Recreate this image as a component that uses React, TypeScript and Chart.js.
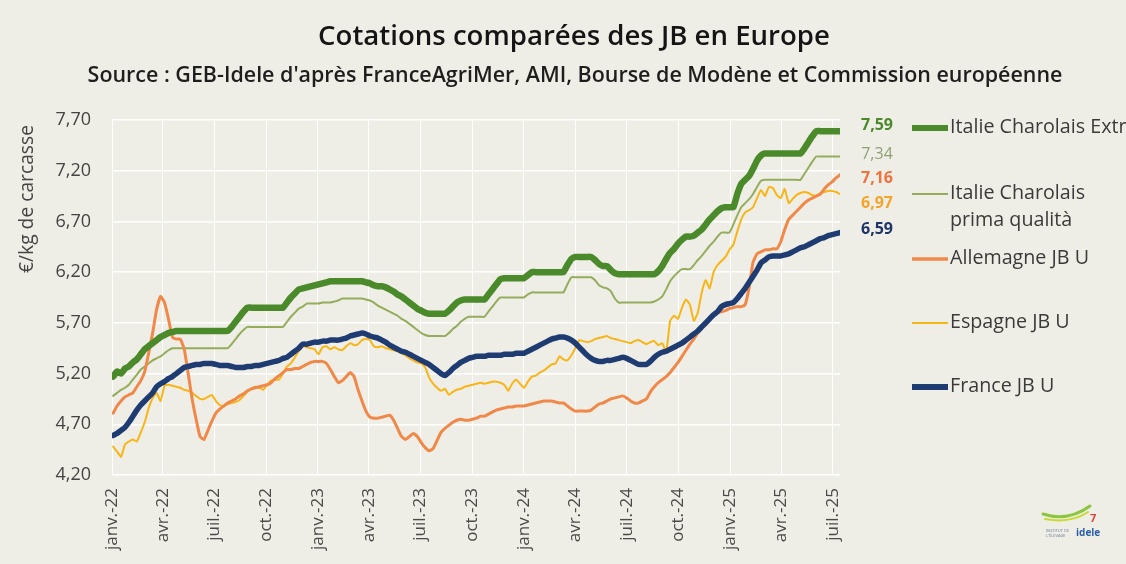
import React, { useEffect, useRef } from "react";
import { Chart, registerables } from "chart.js";

Chart.register(...registerables);

// ---------- DATA (weekly quotations, €/kg carcass, from early Jan 2022 to July 2025) ----------
const italieExtra = [
  5.17, 5.22, 5.20, 5.25, 5.27, 5.31, 5.34, 5.39, 5.44, 5.47, 5.50, 5.53, 5.56, 5.58, 5.60, 5.61,
  5.62, 5.62, 5.62, 5.62, 5.62, 5.62, 5.62, 5.62, 5.62, 5.62, 5.62, 5.62, 5.62, 5.62,
  5.66, 5.71, 5.76, 5.81,
  5.85, 5.85, 5.85, 5.85, 5.85, 5.85, 5.85, 5.85, 5.85, 5.85,
  5.90, 5.95, 5.99, 6.03, 6.04, 6.05, 6.06, 6.07, 6.08, 6.09, 6.10,
  6.11, 6.11, 6.11, 6.11, 6.11, 6.11, 6.11, 6.11, 6.11,
  6.10, 6.09, 6.07, 6.06, 6.06, 6.05, 6.03, 6.01, 5.98, 5.96, 5.93, 5.90, 5.87, 5.84, 5.82, 5.80,
  5.79, 5.79, 5.79, 5.79, 5.79,
  5.82, 5.86, 5.90, 5.92,
  5.93, 5.93, 5.93, 5.93, 5.93, 5.93,
  5.98, 6.03, 6.08, 6.13,
  6.14, 6.14, 6.14, 6.14, 6.14, 6.14,
  6.17,
  6.20, 6.20, 6.20, 6.20, 6.20, 6.20, 6.20, 6.20, 6.20,
  6.27, 6.33,
  6.35, 6.35, 6.35, 6.35, 6.35,
  6.32, 6.28, 6.26, 6.26, 6.22, 6.19,
  6.18, 6.18, 6.18, 6.18, 6.18, 6.18, 6.18, 6.18, 6.18, 6.18,
  6.21, 6.26, 6.33, 6.39, 6.43, 6.48, 6.52, 6.55, 6.55, 6.56, 6.59, 6.62, 6.67, 6.72, 6.76, 6.80, 6.83,
  6.84, 6.84, 6.84,
  6.97, 7.07, 7.11, 7.15, 7.22, 7.30, 7.35,
  7.37, 7.37, 7.37, 7.37, 7.37, 7.37, 7.37, 7.37, 7.37, 7.37,
  7.42, 7.48, 7.54,
  7.59, 7.59, 7.59, 7.59, 7.59, 7.59, 7.59,
];

const italiePrima = [
  4.98, 5.01, 5.04, 5.06, 5.09, 5.14, 5.19, 5.24, 5.27, 5.30, 5.33, 5.35, 5.37, 5.40, 5.43,
  5.45, 5.45, 5.45, 5.45, 5.45, 5.45, 5.45, 5.45, 5.45, 5.45, 5.45, 5.45, 5.45, 5.45, 5.45,
  5.49, 5.54, 5.59, 5.63,
  5.66, 5.66, 5.66, 5.66, 5.66, 5.66, 5.66, 5.66, 5.66, 5.66,
  5.71, 5.76, 5.80, 5.84, 5.86,
  5.89, 5.89, 5.89, 5.89,
  5.90, 5.90, 5.90,
  5.91, 5.92,
  5.94, 5.94, 5.94, 5.94, 5.94, 5.94,
  5.93, 5.92, 5.90, 5.87, 5.85, 5.83, 5.81, 5.79, 5.77, 5.74, 5.72, 5.69, 5.66, 5.63, 5.60, 5.58,
  5.57, 5.57, 5.57, 5.57, 5.57,
  5.60, 5.64, 5.67, 5.71, 5.74,
  5.76, 5.76, 5.76, 5.76, 5.76,
  5.81, 5.86, 5.91,
  5.95, 5.95, 5.95, 5.95, 5.95, 5.95, 5.95,
  5.98,
  6.00, 6.00, 6.00, 6.00, 6.00, 6.00, 6.00, 6.00, 6.00,
  6.08,
  6.15, 6.15, 6.15, 6.15, 6.15, 6.15,
  6.12, 6.07, 6.05, 6.04, 6.01, 5.94,
  5.90, 5.90, 5.90, 5.90, 5.90, 5.90, 5.90, 5.90, 5.90,
  5.91, 5.93, 5.96, 6.03, 6.11, 6.16, 6.20,
  6.23, 6.23, 6.23,
  6.27, 6.32, 6.36, 6.41, 6.46, 6.50, 6.55,
  6.59, 6.59, 6.59,
  6.67, 6.76, 6.84, 6.88, 6.92, 6.97, 7.04, 7.10,
  7.11, 7.11, 7.11, 7.11, 7.11, 7.11, 7.11, 7.11, 7.11, 7.11,
  7.17, 7.23, 7.29,
  7.34, 7.34, 7.34, 7.34, 7.34, 7.34, 7.34,
];

const allemagne = [
  4.81, 4.88, 4.93, 4.97, 4.99, 5.01, 5.07, 5.13, 5.22, 5.40,
  5.60, 5.83, 5.96, 5.90, 5.74, 5.56, 5.54, 5.54, 5.44, 5.20,
  4.95, 4.75, 4.58, 4.55, 4.64, 4.73, 4.81, 4.85, 4.88, 4.91,
  4.93, 4.95, 4.98, 5.00, 5.03, 5.05, 5.06, 5.07, 5.08, 5.09,
  5.11, 5.15, 5.18, 5.21, 5.24, 5.24, 5.25, 5.25, 5.27, 5.29,
  5.31, 5.32, 5.32, 5.32, 5.30, 5.24, 5.17, 5.11, 5.13, 5.17,
  5.21, 5.17, 5.04, 4.93, 4.83, 4.77, 4.76, 4.76, 4.77, 4.78,
  4.79, 4.74, 4.66, 4.58, 4.55, 4.58, 4.61, 4.58, 4.52, 4.47,
  4.44, 4.46, 4.54, 4.62, 4.66, 4.69, 4.72, 4.74, 4.75, 4.74,
  4.74, 4.75, 4.76, 4.78, 4.78, 4.80, 4.82, 4.84, 4.85, 4.86,
  4.87, 4.87, 4.88, 4.88, 4.88, 4.89, 4.90, 4.91, 4.92, 4.93,
  4.93, 4.93, 4.92, 4.91, 4.91, 4.88, 4.85, 4.83, 4.83, 4.83,
  4.83, 4.84, 4.87, 4.90, 4.91, 4.93, 4.95, 4.96, 4.97, 4.98,
  4.96, 4.93, 4.91, 4.91, 4.93, 4.95, 5.02, 5.07, 5.11, 5.14,
  5.17, 5.21, 5.26, 5.31, 5.37, 5.43, 5.49, 5.54, 5.60, 5.65,
  5.68, 5.73, 5.78, 5.80, 5.81, 5.82, 5.84, 5.85, 5.86, 5.86,
  5.88, 6.05, 6.30, 6.38, 6.40, 6.42, 6.42, 6.43, 6.43, 6.50,
  6.62, 6.72, 6.76, 6.80, 6.84, 6.88, 6.91, 6.93, 6.95, 6.97,
  7.02, 7.06, 7.09, 7.13, 7.16,
];

const espagne = [
  4.48, 4.43, 4.38, 4.50, 4.53, 4.55, 4.53, 4.62, 4.72, 4.86,
  4.96, 5.01, 4.93, 5.08, 5.09, 5.08, 5.07, 5.06, 5.04, 5.03,
  5.01, 4.98, 4.95, 4.95, 4.97, 4.99, 4.93, 4.89, 4.88, 4.90,
  4.91, 4.92, 4.94, 4.98, 5.02, 5.05, 5.07, 5.06, 5.04, 5.09,
  5.13, 5.14, 5.14, 5.20, 5.27, 5.30, 5.36, 5.42, 5.47, 5.46,
  5.45, 5.44, 5.39, 5.46, 5.47, 5.44, 5.46, 5.44, 5.43, 5.47,
  5.50, 5.48, 5.49, 5.53, 5.54, 5.53, 5.47, 5.46, 5.47, 5.45,
  5.44, 5.43, 5.42, 5.40, 5.38, 5.35, 5.33, 5.31, 5.30, 5.26,
  5.16, 5.10, 5.06, 5.03, 5.05, 4.99, 5.02, 5.04, 5.05, 5.07,
  5.08, 5.09, 5.10, 5.11, 5.10, 5.11, 5.12, 5.12, 5.11, 5.09,
  5.03, 5.10, 5.14, 5.10, 5.06, 5.12, 5.17, 5.18, 5.21, 5.23,
  5.26, 5.29, 5.30, 5.37, 5.34, 5.33, 5.38, 5.45, 5.53, 5.52,
  5.51, 5.52, 5.54, 5.55, 5.56, 5.57, 5.55, 5.54, 5.53, 5.52,
  5.51, 5.50, 5.52, 5.53, 5.51, 5.49, 5.51, 5.52, 5.48, 5.50,
  5.41, 5.72, 5.77, 5.74, 5.85, 5.93, 5.88, 5.72, 5.80, 6.00,
  6.12, 6.04, 6.20, 6.27, 6.31, 6.35, 6.42, 6.47, 6.60, 6.72,
  6.79, 6.81, 6.84, 6.93, 7.01, 6.95, 7.04, 7.03, 6.96, 6.93,
  7.02, 6.88, 6.92, 6.96, 6.98, 6.99, 6.98, 6.96, 6.95, 6.98,
  6.99, 7.00, 7.00, 6.99, 6.97,
];

const france = [
  4.59, 4.61, 4.64, 4.67, 4.72, 4.78, 4.84, 4.89, 4.93, 4.97,
  5.01, 5.07, 5.10, 5.12, 5.15, 5.17, 5.20, 5.23, 5.26, 5.27,
  5.28, 5.29, 5.29, 5.30, 5.30, 5.30, 5.29, 5.28, 5.28, 5.28,
  5.27, 5.26, 5.26, 5.26, 5.27, 5.27, 5.28, 5.28, 5.29, 5.30,
  5.31, 5.32, 5.33, 5.35, 5.36, 5.39, 5.42, 5.45, 5.49, 5.49,
  5.50, 5.51, 5.51, 5.52, 5.52, 5.53, 5.53, 5.53, 5.54, 5.55,
  5.57, 5.58, 5.59, 5.60, 5.59, 5.57, 5.56, 5.55, 5.53, 5.51,
  5.48, 5.46, 5.44, 5.42, 5.41, 5.39, 5.37, 5.35, 5.33, 5.31,
  5.29, 5.26, 5.23, 5.20, 5.18, 5.21, 5.25, 5.28, 5.31, 5.33,
  5.35, 5.36, 5.37, 5.37, 5.37, 5.38, 5.38, 5.38, 5.38, 5.39,
  5.39, 5.39, 5.40, 5.40, 5.40, 5.42, 5.44, 5.46, 5.48, 5.50,
  5.52, 5.54, 5.55, 5.56, 5.56, 5.55, 5.53, 5.50, 5.46, 5.42,
  5.38, 5.35, 5.33, 5.32, 5.32, 5.33, 5.33, 5.34, 5.35, 5.36,
  5.35, 5.33, 5.31, 5.29, 5.29, 5.29, 5.32, 5.36, 5.39, 5.41,
  5.42, 5.44, 5.46, 5.48, 5.50, 5.53, 5.56, 5.59, 5.62, 5.66,
  5.70, 5.74, 5.78, 5.81, 5.86, 5.88, 5.89, 5.90, 5.94, 5.99,
  6.04, 6.10, 6.16, 6.22, 6.29, 6.32, 6.35, 6.36, 6.36, 6.36,
  6.37, 6.38, 6.40, 6.42, 6.44, 6.45, 6.47, 6.49, 6.51, 6.53,
  6.54, 6.56, 6.57, 6.58, 6.59,
];

// x categories: weekly quotations, expressed in days since 1 January 2022 (first week: 3 January 2022)
const firstWeekDay = 2;
const weekDays = france.map((_, i) => firstWeekDay + 7 * i);

// quarter ticks (days since 1 January 2022) and their labels
const quarterDays = [0, 90, 181, 273, 365, 455, 546, 638, 730, 821, 912, 1004, 1096, 1186, 1277];
const quarterLabels = [
  "janv.-22", "avr.-22", "juil.-22", "oct.-22",
  "janv.-23", "avr.-23", "juil.-23", "oct.-23",
  "janv.-24", "avr.-24", "juil.-24", "oct.-24",
  "janv.-25", "avr.-25", "juil.-25",
];
const yTicks = [4.2, 4.7, 5.2, 5.7, 6.2, 6.7, 7.2, 7.7];

const seriesNames = [
  "Italie Charolais Extra",
  "Italie Charolais prima qualità",
  "Allemagne JB U",
  "Espagne JB U",
  "France JB U",
];
const lastValueLabels = ["7,59", "7,34", "7,16", "6,97", "6,59"];

const title = "Cotations comparées des JB en Europe";
const subtitle = "Source : GEB-Idele d'après FranceAgriMer, AMI, Bourse de Modène et Commission européenne";
const yTitle = "€/kg de carcasse";

// ---------- STYLE ----------
const BG = "#efeee6";
const colExtra = "#4a8a2a";
const colPrima = "#94ad5c";
const colAll = "#f0884a";
const colEsp = "#f7b518";
const colFra = "#1f3c72";
const FONT = "'Open Sans', 'DejaVu Sans', sans-serif";

function fitFont(ctx: CanvasRenderingContext2D, text: string, weight: string, target: number, base: number) {
  ctx.font = `${weight} ${base}px ${FONT}`;
  const w = ctx.measureText(text).width;
  const size = (base * target) / w;
  return `${weight} ${size.toFixed(2)}px ${FONT}`;
}

const overlayPlugin = {
  id: "overlay",
  beforeDraw(chart: any) {
    const ctx = chart.ctx as CanvasRenderingContext2D;
    ctx.save();
    ctx.fillStyle = BG;
    ctx.fillRect(0, 0, chart.width, chart.height);
    ctx.restore();
  },
  afterDraw(chart: any) {
    const ctx = chart.ctx as CanvasRenderingContext2D;
    ctx.save();
    ctx.textBaseline = "middle";

    // titles
    ctx.fillStyle = "#151515";
    ctx.textAlign = "center";
    ctx.font = fitFont(ctx, title, "600", 512, 26);
    ctx.fillText(title, 574, 37);
    ctx.fillStyle = "#1e1e1e";
    ctx.font = fitFont(ctx, subtitle, "600", 975, 19);
    ctx.fillText(subtitle, 575, 76);

    // y axis title
    ctx.save();
    ctx.translate(28, 199);
    ctx.rotate(-Math.PI / 2);
    ctx.fillStyle = "#444";
    ctx.font = fitFont(ctx, yTitle, "400", 148, 17);
    ctx.fillText(yTitle, 0, 0);
    ctx.restore();

    // last-value labels
    const valCols = [colExtra, "#8fa175", "#f2703a", "#f3a52a", "#1e3466"];
    const valY = [125, 154, 178, 203, 229];
    const valWeights = ["700", "400", "700", "700", "700"];
    lastValueLabels.forEach((t, i) => {
      ctx.fillStyle = valCols[i];
      ctx.font = `${valWeights[i]} 16px ${FONT}`;
      ctx.textAlign = "center";
      ctx.fillText(t, 877, valY[i]);
    });

    // legend
    const legFont = fitFont(ctx, "Allemagne JB U", "400", 139, 17);
    const legend = [
      { col: colExtra, w: 6, y: 128, lines: ["Italie Charolais Extra"] },
      { col: colPrima, w: 2, y: 194, lines: ["Italie Charolais", "prima qualità"] },
      { col: colAll, w: 3.5, y: 259, lines: ["Allemagne JB U"] },
      { col: colEsp, w: 2, y: 323, lines: ["Espagne JB U"] },
      { col: colFra, w: 6, y: 387, lines: [seriesNames[4]] },
    ];
    legend.forEach((l) => {
      ctx.strokeStyle = l.col;
      ctx.lineWidth = l.w;
      ctx.lineCap = "butt";
      ctx.beginPath();
      ctx.moveTo(912, l.y);
      ctx.lineTo(948, l.y);
      ctx.stroke();
      ctx.fillStyle = "#3a3a3a";
      ctx.font = legFont;
      ctx.textAlign = "left";
      l.lines.forEach((ln, k) => ctx.fillText(ln, 950, l.y - 1 + k * 27));
    });

    // small Idele logo
    ctx.lineCap = "round";
    ctx.strokeStyle = "#8cc63f";
    ctx.lineWidth = 3;
    ctx.beginPath();
    ctx.moveTo(1043, 514);
    ctx.quadraticCurveTo(1068, 522, 1090, 506);
    ctx.stroke();
    ctx.strokeStyle = "#c9d930";
    ctx.lineWidth = 2;
    ctx.beginPath();
    ctx.moveTo(1045, 519);
    ctx.quadraticCurveTo(1070, 524, 1088, 512);
    ctx.stroke();
    ctx.fillStyle = "#e0403a";
    ctx.font = `700 11px ${FONT}`;
    ctx.textAlign = "left";
    ctx.fillText("7", 1090, 519);
    ctx.fillStyle = "#2a5ea8";
    ctx.font = `700 10px ${FONT}`;
    ctx.fillText("idele", 1076, 533);
    ctx.fillStyle = "#6a7a9a";
    ctx.font = `400 4px ${FONT}`;
    ctx.fillText("INSTITUT DE", 1046, 531);
    ctx.fillText("L'ÉLEVAGE", 1046, 536);

    ctx.restore();
  },
};

function toPoints(values: number[]) {
  return values.map((v, i) => ({ x: weekDays[i], y: v }));
}

export default function App() {
  const canvasRef = useRef<HTMLCanvasElement | null>(null);

  useEffect(() => {
    const canvas = canvasRef.current;
    if (!canvas) return;
    const common = { pointRadius: 0, tension: 0.15, borderJoinStyle: "round" as const, borderCapStyle: "round" as const, fill: false };
    const chart = new Chart(canvas, {
      type: "line",
      data: {
        datasets: [
          { label: seriesNames[4], data: toPoints(france), borderColor: colFra, borderWidth: 5.5, order: 0, ...common },
          { label: seriesNames[0], data: toPoints(italieExtra), borderColor: colExtra, borderWidth: 6.5, order: 1, ...common },
          { label: seriesNames[2], data: toPoints(allemagne), borderColor: colAll, borderWidth: 3, order: 2, ...common },
          { label: seriesNames[1], data: toPoints(italiePrima), borderColor: colPrima, borderWidth: 2, order: 3, ...common },
          { label: seriesNames[3], data: toPoints(espagne), borderColor: colEsp, borderWidth: 2, order: 4, ...common },
        ],
      },
      options: {
        responsive: false,
        animation: false,
        events: [],
        layout: { padding: { top: 120, right: 286, bottom: 0, left: 0 } },
        plugins: { legend: { display: false }, tooltip: { enabled: false }, title: { display: false } },
        scales: {
          x: {
            type: "linear",
            min: 0,
            max: 1290,
            afterBuildTicks: (s: any) => {
              s.ticks = quarterDays.map((v) => ({ value: v }));
            },
            afterFit: (s: any) => {
              s.height = 89;
            },
            grid: { color: "#ffffff", lineWidth: 1, drawTicks: false },
            border: { display: false },
            ticks: {
              autoSkip: false,
              minRotation: 90,
              maxRotation: 90,
              padding: 13,
              color: "#4a4a4a",
              font: { family: "'Open Sans', sans-serif", size: 17, weight: "400" },
              callback: (_v: any, i: number) => quarterLabels[i],
            },
          },
          y: {
            min: 4.2,
            max: 7.7,
            afterBuildTicks: (s: any) => {
              s.ticks = yTicks.map((v) => ({ value: v }));
            },
            afterFit: (s: any) => {
              s.width = 112;
            },
            grid: { color: "#ffffff", lineWidth: 1.5, drawTicks: false },
            border: { display: false },
            ticks: {
              padding: 21,
              color: "#444",
              font: { family: "'Open Sans', sans-serif", size: 18 },
              callback: (v: any) => Number(v).toFixed(2).replace(".", ","),
            },
          },
        },
      },
      plugins: [overlayPlugin],
    });
    return () => chart.destroy();
  }, []);

  return (
    <div style={{ position: "fixed", left: 0, top: 0, width: 1126, height: 564, background: BG }}>
      <canvas ref={canvasRef} width={1126} height={564} style={{ display: "block" }} />
    </div>
  );
}
